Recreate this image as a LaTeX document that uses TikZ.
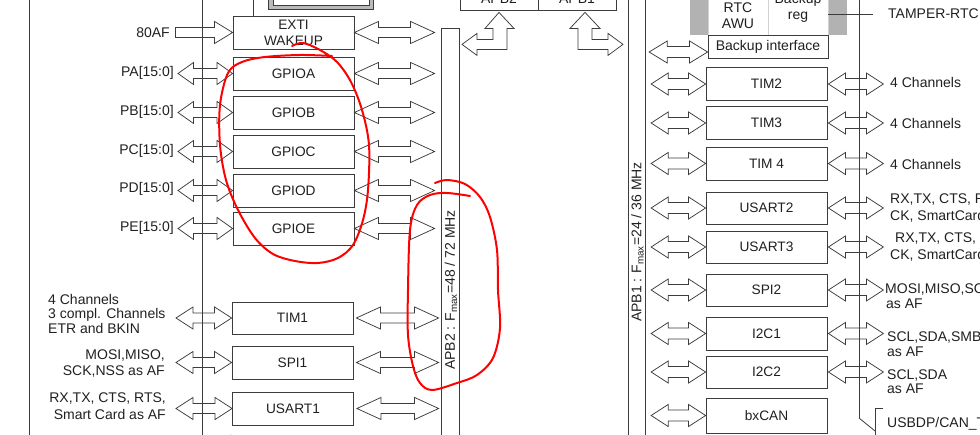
\documentclass[tikz,border=0pt]{standalone}
\usepackage{fontspec}
\setmainfont{Liberation Sans}
\usetikzlibrary{calc}
\definecolor{ln}{HTML}{3C3C3C}
\definecolor{tx}{HTML}{202020}
\definecolor{bkg}{HTML}{B2B2B2}
% #1 head length, #2 head half height, #3 shaft half height, #4 left tip (x), #5 right tip (x), #6 point giving y
\newcommand\blockarrow[6]{%
  \draw[barrow] let \p1=#4, \p2=#5, \p3=#6 in
    (\x1,\y3) -- (\x1+#1,\y3+#2) -- (\x1+#1,\y3+#3) -- (\x2-#1,\y3+#3)
    -- (\x2-#1,\y3+#2) -- (\x2,\y3) -- (\x2-#1,\y3-#2) -- (\x2-#1,\y3-#3)
    -- (\x1+#1,\y3-#3) -- (\x1+#1,\y3-#2) -- cycle;}
\begin{document}
\begin{tikzpicture}[x=1pt,y=-1pt,
  every node/.style={text=tx, font=\fontsize{14}{16}\selectfont},
  box/.style={draw=ln, line width=0.8pt, minimum width=121pt, minimum height=33pt, inner sep=0pt, align=center, font=\fontsize{13.7}{16}\selectfont},
  lbl/.style={inner sep=0pt},
  barrow/.style={draw=ln, line width=0.75pt, line join=miter},
  busline/.style={draw=ln, line width=0.8pt},
  redmark/.style={draw=red, line width=2pt, line cap=round, line join=round}]
\useasboundingbox (0,0) rectangle (980,435);
\clip (0,0) rectangle (980,435);

% ---------------- left panel ----------------
\coordinate (lltop) at (29,0);  \coordinate (llbot) at (29,435);
\coordinate (lbtop) at (202,0); \coordinate (lbbot) at (202,435);
\draw[busline] (lltop) -- (llbot);
\draw[busline] (lbtop) -- (lbbot);

% top double framed box (cut)
\draw[ln, line width=0.8pt, fill=gray!55] (268,-10) rectangle (373,9);
\draw[ln, line width=0.8pt, fill=white] (273,-10) rectangle (369,5);

\node[box] (exti)  at (293.5,32.5)  {EXTI\\WAKEUP};
\draw[busline] ([xshift=-40.5pt]exti.north) -- ++(0,-20);
\node[box] (gpioa) at (293.5,73.5)  {GPIOA};
\node[box] (gpiob) at (293.5,112.5) {GPIOB};
\node[box] (gpioc) at (293.5,151.5) {GPIOC};
\node[box] (gpiod) at (293.5,190.5) {GPIOD};
\node[box] (gpioe) at (293.5,228.5) {GPIOE};
\node[box, minimum height=32pt] (tim1)   at (292.5,318)   {TIM1};
\node[box] (spi1)   at (292.5,362.5) {SPI1};
\node[box] (usart1) at (293,408.5)   {USART1};
\node[lbl, anchor=west] (vdda) at (223,441) {@VDDA};

\node[lbl, anchor=east] (l80af) at (170,33)  {80AF};
\node[lbl, anchor=east] (lpa)   at (174,73)  {PA[15:0]};
\node[lbl, anchor=east] (lpb)   at (174,112) {PB[15:0]};
\node[lbl, anchor=east] (lpc)   at (174,151) {PC[15:0]};
\node[lbl, anchor=east] (lpd)   at (174,189) {PD[15:0]};
\node[lbl, anchor=east] (lpe)   at (174,228) {PE[15:0]};
\node[lbl, anchor=west, align=left, font=\fontsize{14}{14.5}\selectfont] (ltim1) at (48,313.5) {4 Channels\\3 compl. Channels\\ETR and BKIN};
\node[lbl, anchor=east, align=right, font=\fontsize{14}{16}\selectfont] (lspi1) at (165,364) {MOSI,MISO,\\SCK,NSS as AF};
\node[lbl, anchor=east, align=right, font=\fontsize{14}{17}\selectfont] (lusart1) at (166,406.5) {RX,TX, CTS, RTS,\\Smart Card as AF};

% APB2 bus bar
\node[draw=ln, line width=0.8pt, minimum width=18pt, minimum height=420pt, anchor=north, inner sep=0pt] (apbtwo) at (450,28) {};
\node[rotate=90, inner sep=0pt] (apbtwotxt) at (451,290) {APB2 : F\textsubscript{max}=48 / 72 MHz};

% arrows, left panel
\draw[barrow] (exti.west) -- ++(-18,-11) -- ++(0,6) -- ++(-39,0) -- ++(0,10) -- ++(39,0) -- ++(0,6) -- cycle;
\foreach \b in {gpioa,gpiob,gpioc,gpiod,gpioe}{
  \blockarrow{15.5pt}{11pt}{5pt}{([xshift=-24pt]lbtop)}{(\b.west)}{(\b.west)}
}
\foreach \b in {exti,gpioa,gpiob,gpioc,gpiod,gpioe}{
  \blockarrow{24pt}{11pt}{5pt}{(\b.east)}{([xshift=-6pt]apbtwo.west)}{(\b.east)}
}
\foreach \b in {tim1,spi1,usart1}{
  \blockarrow{17pt}{11pt}{5pt}{([xshift=-26pt]lbtop)}{(\b.west)}{(\b.west)}
  \blockarrow{24pt}{11pt}{5pt}{([xshift=3pt]\b.east)}{([xshift=-2pt]apbtwo.west)}{(\b.east)}
}

% ---------------- centre ----------------
\node[draw=ln, line width=0.8pt, minimum width=78pt, minimum height=22pt, inner sep=0pt] (apbtwotop) at (499,-1) {APB2};
\node[draw=ln, line width=0.8pt, minimum width=78pt, minimum height=22pt, inner sep=0pt] (apbonetop) at (577,-1) {APB1};
\draw[barrow] ([yshift=-2pt]apbtwotop.south) -- ++(15,16) -- ++(-7,0) -- ++(0,21) -- ++(-30,0) -- ++(0,6)
  -- ++(-15,-11) -- ++(15,-11) -- ++(0,6) -- ++(16,0) -- ++(0,-11) -- ++(-8,0) -- cycle;
\draw[barrow] ([xshift=8pt,yshift=-2pt]apbonetop.south) -- ++(15,16) -- ++(-8,0) -- ++(0,11) -- ++(16,0) -- ++(0,-6)
  -- ++(15,11) -- ++(-15,11) -- ++(0,-6) -- ++(-30,0) -- ++(0,-21) -- ++(-8,0) -- cycle;

% APB1 bus bar
\node[draw=ln, line width=0.8pt, minimum width=17.5pt, minimum height=460pt, inner sep=0pt] (apbone) at (637,217.5) {};
\node[rotate=90, inner sep=0pt] (apbonetxt) at (637.5,242) {APB1 : F\textsubscript{max}=24 / 36 MHz};

% ---------------- right panel ----------------
\coordinate (rbtop) at (859,0); \coordinate (rbbot) at (859,418);
\fill[bkg] (690,-5) rectangle (847,35);
\node[draw=gray!35, fill=white, minimum width=60pt, minimum height=45pt, anchor=south west, inner sep=0pt] (rtc) at (708,35) {};
\node[draw=gray!35, fill=white, minimum width=60pt, minimum height=45pt, anchor=south west, inner sep=0pt] (bkreg) at (768,35) {};
\node[align=center, inner sep=0pt, font=\fontsize{14}{15.5}\selectfont] (rtctxt) at (738,15.5) {RTC\\AWU};
\node[align=center, inner sep=0pt, font=\fontsize{14}{16}\selectfont] (bkregtxt) at (798,7.5) {Backup\\reg};
\node[draw=ln, line width=0.8pt, fill=white, minimum width=120pt, minimum height=23pt, inner sep=0pt] (bkif) at (768,46.5) {Backup interface};
\draw[busline] (rbtop) -- (rbbot);
\node[lbl, anchor=west] (tamper) at (888,14) {TAMPER-RTC};
\draw[busline] (bkreg.east |- tamper.west) -- ([xshift=-15pt]tamper.west);

\node[box] (tim2)   at (766.5,84)    {TIM2};
\node[box] (tim3)   at (766.5,123)   {TIM3};
\node[box] (tim4)   at (766.5,163.5) {TIM 4};
\node[box, minimum height=32pt] (usart2) at (766.5,208)    {USART2};
\node[box, minimum height=32pt] (usart3) at (766.5,247)    {USART3};
\node[box, minimum height=32pt] (spi2)   at (766.5,290)    {SPI2};
\node[box] (i2ca)   at (766.5,333.5) {I2C1};
\node[box, minimum height=32pt] (i2cb)   at (766.5,372)    {I2C2};
\node[box, minimum height=35pt] (bxcan)  at (766.5,415.5)  {bxCAN};

\blockarrow{18pt}{11pt}{5.5pt}{([xshift=3pt]apbone.east)}{(bkif.west)}{([yshift=-5.5pt]bkif.west)}
\foreach \b in {tim2,tim3,tim4,usart2,usart3,spi2,i2ca,i2cb,bxcan}{
  \blockarrow{17pt}{11pt}{5.5pt}{([xshift=5pt]apbone.east)}{(\b.west)}{(\b.west)}
}
\foreach \b in {tim2,tim3,tim4,usart2,usart3,spi2,i2ca,i2cb}{
  \blockarrow{17pt}{11pt}{5.5pt}{([xshift=1pt]\b.east)}{([xshift=56pt]\b.east)}{(\b.east)}
}

\node[lbl, anchor=west] (c2) at (890,83)  {4 Channels};
\node[lbl, anchor=west] (c3) at (890,123) {4 Channels};
\node[lbl, anchor=west] (c4) at (890,164) {4 Channels};
\node[lbl, anchor=west, align=left, font=\fontsize{14}{17}\selectfont] (u2) at (890,208.5) {RX,TX, CTS, RTS,\\CK, SmartCard as AF};
\node[lbl, anchor=west, align=left, font=\fontsize{14}{17}\selectfont] (u3) at (890,247.5) {\hspace*{5pt}RX,TX, CTS, RTS,\\CK, SmartCard as AF};
\node[lbl, anchor=west, align=left, font=\fontsize{14}{15}\selectfont] (s2) at (885,296.5) {MOSI,MISO,SCK\\\hspace*{1pt}as AF};
\node[lbl, anchor=west, align=left, font=\fontsize{14}{15}\selectfont] (ia) at (887,344) {SCL,SDA,SMBAL\\as AF};
\node[lbl, anchor=west, align=left, font=\fontsize{14}{14}\selectfont] (ib) at (887,382) {SCL,SDA\\as AF};
\node[lbl, anchor=west] (usb) at (887,424) {USBDP/CAN\_TX};
\draw[busline] (rbbot) -- ++(16,13);
\draw[busline] ([xshift=-4pt,yshift=9pt]usb.north west) -- ++(-8,0) -- ++(0,30);

% ---------------- red hand marks ----------------
\draw[redmark] plot[smooth, tension=0.55] coordinates {(292,46) (303,43) (320,50) (337,62) (351,82) (362,110) (369,145) (368,190) (363,220) (353,245) (338,258) (318,263) (295,261) (273,254) (255,238) (238,210) (226,180) (220,145) (220,105) (228,73) (242,62) (265,57) (300,55) (332,56)};
\draw[redmark] plot[smooth, tension=0.55] coordinates {(435,183) (447,180) (465,184) (480,197) (490,217) (497,250) (498,290) (500,328) (493,358) (477,375) (457,383) (432,390) (420,383) (413,366) (408,335) (408,290) (410,230) (417,205) (430,195) (447,193) (470,196)};
\end{tikzpicture}
\end{document}
